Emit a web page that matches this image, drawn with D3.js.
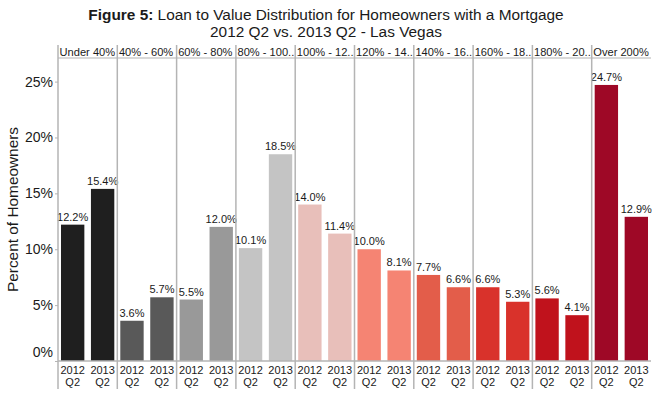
<!DOCTYPE html>
<html>
<head>
<meta charset="utf-8">
<script src="https://cdn.jsdelivr.net/npm/d3@7"></script>
<style>
  html, body { margin: 0; padding: 0; background: #fff; }
  svg { display: block; font-family: "Liberation Sans", Arial, sans-serif; }
</style>
</head>
<body>
<svg id="chart" width="656" height="395"></svg>
<script>
// ---- data ----
const categories = ["Under 40%", "40% - 60%", "60% - 80%", "80% - 100..", "100% - 12..",
                    "120% - 14..", "140% - 16..", "160% - 18..", "180% - 20..", "Over 200%"];
const periods = ["2012 Q2", "2013 Q2"];
const values2012 = [12.2, 3.6, 5.5, 10.1, 14.0, 10.0, 7.7, 6.6, 5.6, 24.7];
const values2013 = [15.4, 5.7, 12.0, 18.5, 11.4, 8.1, 6.6, 5.3, 4.1, 12.9];
const colors = ["#1f1f1f", "#595959", "#999999", "#c4c4c4", "#e8bfba",
                "#f58473", "#e35d4a", "#d9322b", "#c0121c", "#9e0826"];
const yTicks = [0, 5, 10, 15, 20, 25];
const titleBold = "Figure 5:";
const titleRest = " Loan to Value Distribution for Homeowners with a Mortgage";
const subtitle = "2012 Q2 vs. 2013 Q2 - Las Vegas";
const yTitle = "Percent of Homeowners";

// ---- layout ----
const svg = d3.select("#chart");
const left = 58, right = 651, headerTop = 45, plotTop = 58, plotBottom = 361, labelBottom = 389;
const textColor = "#1a1a1a", lineColor = "#b4b4b4";

const x0 = d3.scaleBand().domain(categories).range([left, right]).padding(0);
const x1 = d3.scaleBand().domain(periods).range([0, x0.bandwidth()]).paddingInner(0.22).paddingOuter(0.1);
const y = d3.scaleLinear().domain([0, 25]).range([plotBottom, 81.6]);

// title
const t1 = svg.append("text").attr("x", 326).attr("y", 20).attr("text-anchor", "middle")
  .attr("font-size", 15.4).attr("fill", textColor);
t1.append("tspan").attr("font-weight", "bold").text(titleBold);
t1.append("tspan").text(titleRest);
svg.append("text").attr("x", 326).attr("y", 36.5).attr("text-anchor", "middle")
  .attr("font-size", 15.4).attr("fill", textColor).text(subtitle);

// y title
svg.append("text").attr("transform", "translate(18,209.5) rotate(-90)")
  .attr("text-anchor", "middle").attr("font-size", 15.4).attr("fill", textColor).text(yTitle);

// data rows
const rows = categories.map((c, i) => ({ cat: c, color: colors[i],
  vals: [{ p: periods[0], v: values2012[i] }, { p: periods[1], v: values2013[i] }] }));

const panel = svg.selectAll("g.panel").data(rows).enter().append("g")
  .attr("class", "panel").attr("transform", d => `translate(${x0(d.cat)},0)`);

// header labels
panel.append("text")
  .attr("x", 1.6).attr("y", 56).attr("font-size", 11.1).attr("fill", textColor).text(d => d.cat);

// bars
panel.selectAll("rect.bar").data(d => d.vals.map(v => ({ ...v, color: d.color }))).enter().append("rect")
  .attr("class", "bar")
  .attr("x", d => x1(d.p)).attr("width", x1.bandwidth())
  .attr("y", d => y(d.v)).attr("height", d => y(0) - y(d.v))
  .attr("fill", d => d.color);

// value labels
panel.selectAll("text.val").data(d => d.vals).enter().append("text")
  .attr("class", "val")
  .attr("x", d => x1(d.p) + x1.bandwidth() / 2).attr("y", d => y(d.v) - 4)
  .attr("text-anchor", "middle").attr("font-size", 11).attr("fill", textColor)
  .text(d => d.v.toFixed(1) + "%");

// bottom period labels
panel.selectAll("text.per").data(d => d.vals).enter().append("text")
  .attr("class", "per")
  .attr("x", d => x1(d.p) + x1.bandwidth() / 2)
  .attr("text-anchor", "middle").attr("font-size", 11).attr("fill", textColor)
  .each(function (d) {
    const parts = d.p.split(" ");
    d3.select(this).append("tspan").attr("x", x1(d.p) + x1.bandwidth() / 2).attr("y", 374).text(parts[0]);
    d3.select(this).append("tspan").attr("x", x1(d.p) + x1.bandwidth() / 2).attr("y", 386).text(parts[1]);
  });

// separators
const seps = categories.map(c => x0(c));
svg.selectAll("line.sep").data(seps).enter().append("line")
  .attr("x1", d => d).attr("x2", d => d).attr("y1", headerTop).attr("y2", labelBottom)
  .attr("stroke", lineColor).attr("stroke-width", 1.5);
svg.append("line").attr("x1", left).attr("x2", right).attr("y1", plotTop).attr("y2", plotTop)
  .attr("stroke", lineColor).attr("stroke-width", 1.2);
svg.append("line").attr("x1", left).attr("x2", right).attr("y1", plotBottom).attr("y2", plotBottom)
  .attr("stroke", lineColor).attr("stroke-width", 1.5);

// y axis
const yAxis = svg.append("g").attr("transform", `translate(${left},0)`)
  .call(d3.axisLeft(y).tickValues(yTicks).tickFormat(d => d + "%").tickSize(3).tickPadding(2));
yAxis.select(".domain").remove();
yAxis.selectAll(".tick line").attr("stroke", lineColor);
yAxis.selectAll(".tick text").attr("font-size", 14).attr("fill", textColor)
  .attr("font-family", "Liberation Sans, Arial, sans-serif");
yAxis.selectAll(".tick").filter(d => d === 0).select("text").attr("dy", "-0.3em");
</script>
</body>
</html>
